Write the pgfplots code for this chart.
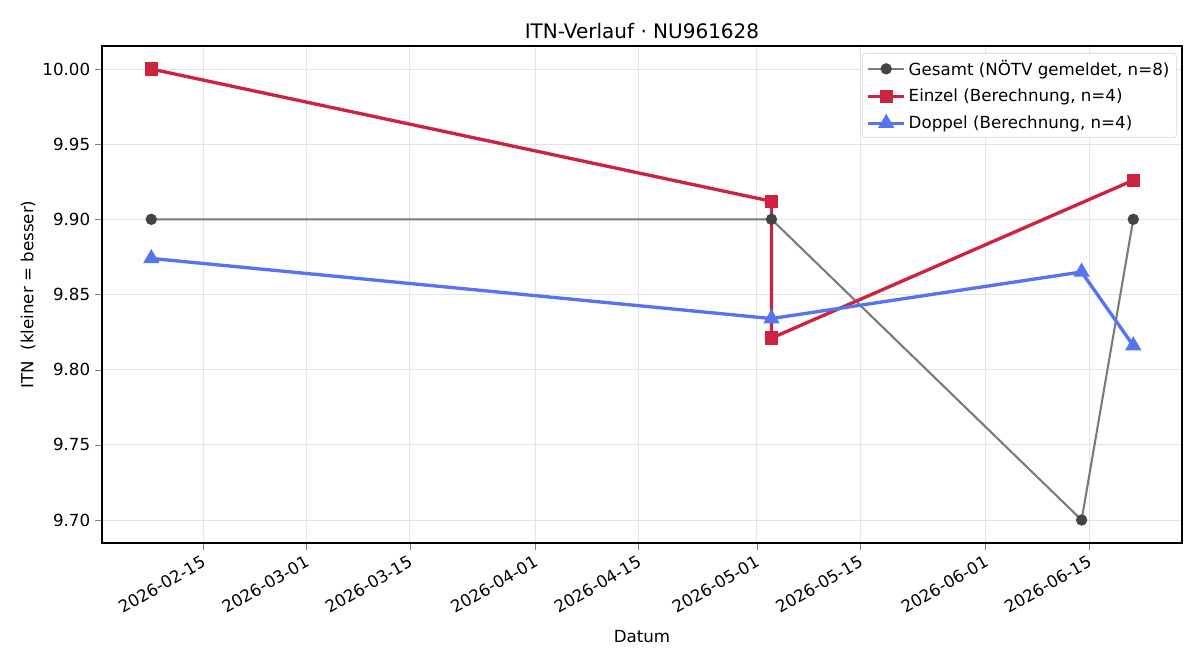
\documentclass[border=0pt]{standalone}
\usepackage{fontspec}
\setmainfont{DejaVu Sans}
\usepackage{pgfplots}
\pgfplotsset{compat=1.18}
\definecolor{gline}{HTML}{7A7A7A}
\definecolor{gmark}{HTML}{444444}
\definecolor{ered}{HTML}{CC2440}
\definecolor{dblue}{HTML}{5673F0}
\begin{document}
\begin{tikzpicture}
\begin{axis}[
  scale only axis,
  width=777.6pt, height=357.84pt,
  xmin=32.32, xmax=178.6,
  ymin=9.6847, ymax=10.0153,
  xtick={46,60,74,91,105,121,135,152,166},
  xticklabels={2026-02-15,2026-03-01,2026-03-15,2026-04-01,2026-04-15,2026-05-01,2026-05-15,2026-06-01,2026-06-15},
  xticklabel style={rotate=30, anchor=north east, font=\fontsize{12}{14}\selectfont, inner sep=1pt, xshift=-2pt, yshift=-1pt},
  ytick={9.70,9.75,9.80,9.85,9.90,9.95,10.00},
  yticklabel style={/pgf/number format/fixed, /pgf/number format/fixed zerofill, /pgf/number format/precision=2, font=\fontsize{12}{14}\selectfont},
  /pgf/number format/assume math mode=true,
  tick align=outside,
  tick pos=left,
  major tick length=5pt,
  grid=major,
  major grid style={gray!22, line width=0.6pt},
  axis line style={line width=0.9pt},
  xlabel={Datum},
  ylabel={ITN\ \ (kleiner = besser)},
  xlabel style={font=\fontsize{12}{14}\selectfont, yshift=-7pt},
  ylabel style={font=\fontsize{12}{14}\selectfont, yshift=-2pt},
  title={ITN-Verlauf · NU961628},
  title style={font=\fontsize{14.4}{17}\selectfont, yshift=-4pt},
  legend cell align=left,
  legend style={font=\fontsize{12}{14}\selectfont, draw=gray!35, rounded corners=2pt, row sep=4.5pt, inner sep=3pt, at={(0.995,0.986)}, anchor=north east},
  legend image code/.code={\draw[#1] (0pt,0pt) -- (13pt,0pt) -- (26pt,0pt);
    \draw[#1, only marks] plot coordinates {(13pt,0pt)};},
]
\addplot[gline, line width=1.5pt, mark=*, mark size=3.3pt, mark options={fill=gmark, draw=gmark}] coordinates {
  (39,9.90) (123,9.90) (165,9.70) (172,9.90)
};
\addlegendentry{Gesamt (NÖTV gemeldet, n=8)}
\addplot[ered, line width=2.4pt, mark=square*, mark size=3.6pt, mark options={fill=ered, draw=ered}] coordinates {
  (39,10.00) (123,9.912) (123,9.821) (172,9.926)
};
\addlegendentry{Einzel (Berechnung, n=4)}
\addplot[dblue, line width=2.4pt, mark=triangle*, mark size=4.4pt, mark options={fill=dblue, draw=dblue}] coordinates {
  (39,9.874) (123,9.834) (165,9.865) (172,9.816)
};
\addlegendentry{Doppel (Berechnung, n=4)}
\coordinate (sw) at (rel axis cs:0,0);
\coordinate (ne) at (rel axis cs:1,1);
\end{axis}
\pgfresetboundingbox
\path[use as bounding box] ([xshift=-73.44pt,yshift=-84.24pt]sw) rectangle ([xshift=12.96pt,yshift=33.12pt]ne);
\end{tikzpicture}
\end{document}
